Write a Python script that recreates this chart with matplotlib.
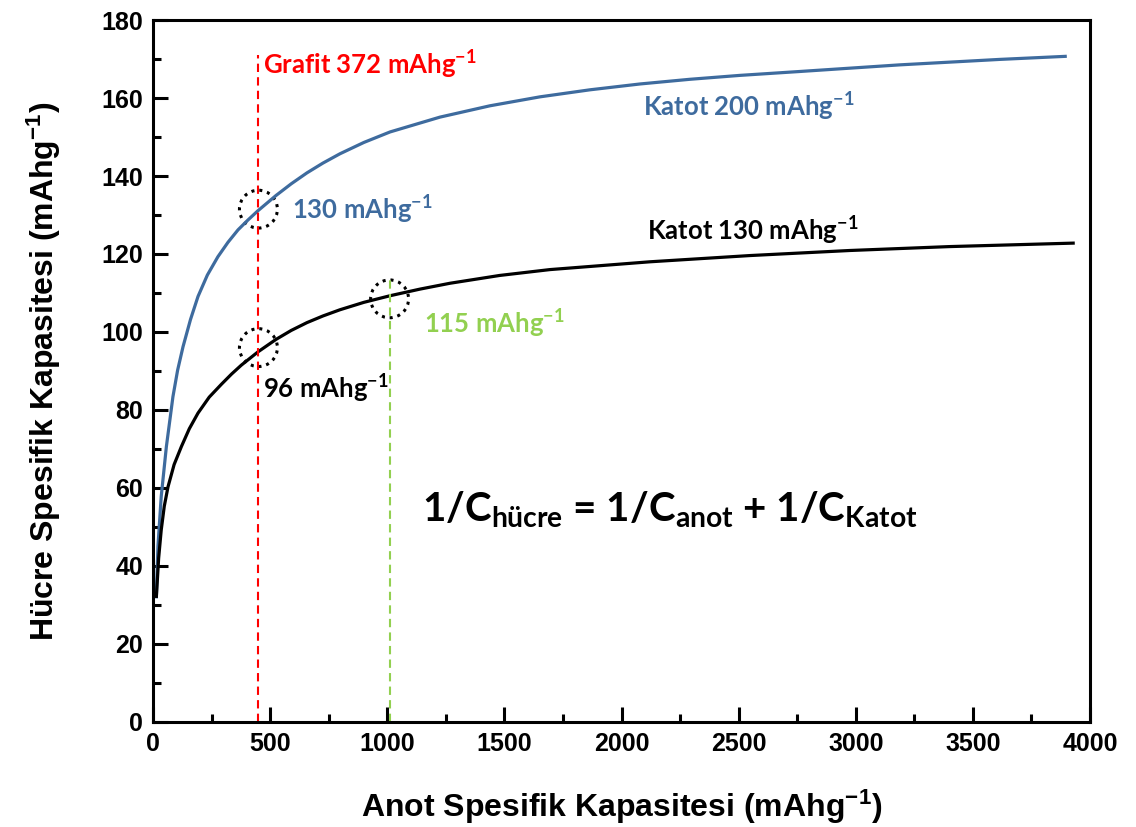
import matplotlib.pyplot as plt
from matplotlib.patches import Ellipse
from matplotlib.ticker import MultipleLocator

# anot kapasitesi (mAh/g) ve hücre kapasitesi okumaları
anot_katot200 = [14, 21, 35, 57, 85, 105, 128, 160, 192, 232, 277, 320, 363, 405,
                 448, 525, 590, 657, 725, 798, 900, 1012, 1225, 1438, 1652, 1865,
                 2079, 2292, 2505, 2761, 3188, 3615, 3901]
hucre_katot200 = [31.7, 45.0, 57.8, 70.6, 83.4, 90.2, 96.2, 103.2, 109.1, 114.6,
                  119.3, 123.0, 126.2, 128.7, 131.1, 135.0, 138.0, 140.8, 143.3,
                  145.7, 148.6, 151.3, 155.1, 158.0, 160.3, 162.1, 163.6, 164.8,
                  165.8, 166.8, 168.5, 169.9, 170.7]

anot_katot130 = [14, 24, 35, 48, 64, 90, 121, 155, 192, 240, 292, 335, 377, 448,
                 525, 590, 657, 725, 798, 900, 1012, 1140, 1268, 1480, 1694, 2121,
                 2548, 2975, 3400, 3935]
hucre_katot130 = [31.8, 42.0, 49.2, 55.3, 60.3, 66.0, 70.6, 75.2, 79.2, 83.3,
                  86.6, 89.2, 91.5, 94.9, 98.1, 100.4, 102.4, 104.1, 105.7, 107.6,
                  109.3, 111.0, 112.5, 114.5, 116.0, 118.0, 119.6, 120.9, 121.9,
                  122.8]

# dikey referans çizgileri: (x, üst y)
grafit_x, grafit_top = 450, 171
yesil_x, yesil_top = 1010, 113.5

# işaretlenen noktalar
daireler_x = [450, 450, 1010]
daireler_y = [131.5, 96, 108.5]

MAVI = '#3E6B9E'
YESIL = '#92D050'
KIRMIZI = '#FF0000'

plt.rcParams['font.family'] = ['Lato', 'DejaVu Sans']

fig = plt.figure(figsize=(11.36, 8.27), dpi=100)
ax = fig.add_axes([0.1347, 0.127, 0.8248, 0.8488])

ax.plot(anot_katot200, hucre_katot200, color=MAVI, lw=2.3,
        solid_joinstyle='round', solid_capstyle='butt')
ax.plot(anot_katot130, hucre_katot130, color='black', lw=2.3,
        solid_joinstyle='round', solid_capstyle='butt')

ax.plot([grafit_x, grafit_x], [0, grafit_top], color=KIRMIZI, lw=1.5, dashes=(4, 2.5))
ax.plot([yesil_x, yesil_x], [0, yesil_top], color=YESIL, lw=1.5, dashes=(4, 2.5))

for cx, cy in zip(daireler_x, daireler_y):
    ax.add_patch(Ellipse((cx, cy), 162, 9.7, fill=False, ec='black',
                         lw=2.2, ls=(0, (1, 1.6))))

ax.set_xlim(0, 4000)
ax.set_ylim(0, 180)
ax.xaxis.set_minor_locator(MultipleLocator(250))
ax.yaxis.set_minor_locator(MultipleLocator(10))
ax.tick_params(which='both', direction='in', width=2.2, top=False, right=False)
ax.tick_params(which='major', length=11, pad=7)
ax.tick_params(which='minor', length=5.5)
for sp in ax.spines.values():
    sp.set_linewidth(2.2)

tick_font = dict(family='Liberation Sans', weight='bold', size=18)
ax.set_xticks(range(0, 4001, 500))
ax.set_xticklabels([str(v) for v in range(0, 4001, 500)], **tick_font)
ax.set_yticks(range(0, 181, 20))
ax.set_yticklabels([str(v) for v in range(0, 181, 20)], **tick_font)

ax.set_xlabel(r'Anot Spesifik Kapasitesi (mAhg$\mathregular{^{-1}}$)',
              family='Liberation Sans', weight='bold', size=23, labelpad=23)
ax.set_ylabel(r'Hücre Spesifik Kapasitesi (mAhg$\mathregular{^{-1}}$)',
              family='Liberation Sans', weight='bold', size=23, labelpad=28)

sup = r'$\mathregular{^{-1}}$'
etiket = dict(weight='bold', size=18.5, va='baseline')
ax.text(469, 166.0, 'Grafit 372 mAhg' + sup, color=KIRMIZI, **etiket)
ax.text(593, 129.0, '130 mAhg' + sup, color=MAVI, **etiket)
ax.text(2091, 155.2, 'Katot 200 mAhg' + sup, color=MAVI, **etiket)
ax.text(2108, 123.6, 'Katot 130 mAhg' + sup, color='black', **etiket)
ax.text(1157, 99.6, '115 mAhg' + sup, color=YESIL, **etiket)
ax.text(469, 83.1, '96 mAhg' + sup, color='black', **etiket)

ax.text(1148, 51.3,
        r'1/C$\mathregular{_{hücre}}$ = 1/C$\mathregular{_{anot}}$ + 1/C$\mathregular{_{Katot}}$',
        color='black', va='baseline', weight='bold', size=29)

fig.savefig('out.png', dpi=100)
